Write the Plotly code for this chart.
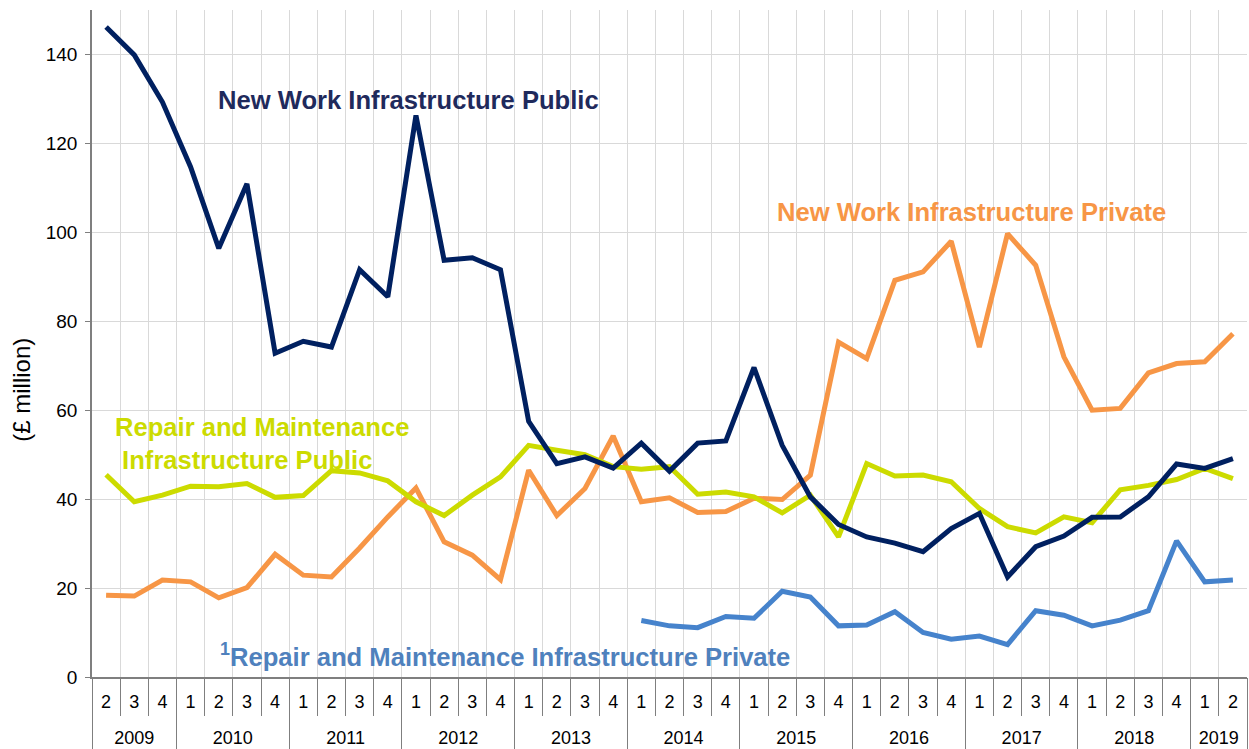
import plotly.graph_objects as go

years = ["2009"] * 3 + ["2010"] * 4 + ["2011"] * 4 + ["2012"] * 4 + ["2013"] * 4 + \
        ["2014"] * 4 + ["2015"] * 4 + ["2016"] * 4 + ["2017"] * 4 + ["2018"] * 4 + ["2019"] * 2
quarters = ["2", "3", "4"] + ["1", "2", "3", "4"] * 9 + ["1", "2"]

new_work_public = [146.2, 139.9, 129.3, 114.7, 96.4, 110.9, 72.8, 75.5, 74.2, 91.6,
                   85.5, 126.3, 93.7, 94.3, 91.6, 57.5, 48.0, 49.5, 47.0, 52.6,
                   46.3, 52.6, 53.1, 69.6, 52.1, 40.5, 34.3, 31.5, 30.1, 28.2,
                   33.4, 36.8, 22.5, 29.3, 31.7, 35.9, 36.0, 40.5, 47.9, 46.9, 49.1]
new_work_private = [18.4, 18.2, 21.8, 21.4, 17.8, 20.1, 27.6, 22.9, 22.5, 29.0,
                    36.0, 42.5, 30.4, 27.4, 21.9, 46.5, 36.3, 42.4, 54.2, 39.4,
                    40.3, 37.0, 37.2, 40.2, 39.9, 45.4, 75.3, 71.6, 89.2, 91.1,
                    98.0, 74.2, 99.7, 92.6, 72.0, 60.0, 60.4, 68.4, 70.5, 70.9, 77.2]
rm_public = [45.5, 39.4, 40.9, 42.9, 42.8, 43.5, 40.4, 40.8, 46.4, 45.9,
             44.1, 39.4, 36.3, 40.9, 45.0, 52.1, 51.0, 50.0, 47.3, 46.7,
             47.3, 41.1, 41.6, 40.5, 36.9, 40.9, 31.5, 48.0, 45.2, 45.4,
             43.9, 37.9, 33.8, 32.4, 36.0, 34.7, 42.1, 43.1, 44.4, 46.9, 44.6]
rm_private = [None] * 19 + [12.7, 11.5, 11.1, 13.6, 13.2, 19.3, 18.0, 11.5, 11.7, 14.7,
                           10.0, 8.5, 9.2, 7.3, 14.9, 13.9, 11.5, 12.8, 14.9, 30.6,
                           21.4, 21.8]

C_NAVY = "#002060"
C_ORANGE = "#F79646"
C_LIME = "#CCDB00"
C_BLUE = "#4683CC"
GRID = "#D9D9D9"
AXIS = "#7F7F7F"

FONT = "Liberation Sans, Arial, sans-serif"

n = len(quarters)
idx = list(range(n))

# year groups derived from the category lists
year_names = []
year_first = []
year_last = []
for i, y in enumerate(years):
    if not year_names or year_names[-1] != y:
        year_names.append(y)
        year_first.append(i)
        year_last.append(i)
    else:
        year_last[-1] = i
year_centers = [(a + b) / 2 for a, b in zip(year_first, year_last)]
year_bounds = [a - 0.5 for a in year_first] + [year_last[-1] + 0.5]

fig = go.Figure()
for vals, col in [(rm_private, C_BLUE), (new_work_private, C_ORANGE),
                  (rm_public, C_LIME), (new_work_public, C_NAVY)]:
    fig.add_trace(go.Scatter(x=idx, y=vals, mode="lines",
                             line=dict(color=col, width=5),
                             connectgaps=False, showlegend=False,
                             customdata=list(zip(years, quarters)),
                             hovertemplate="%{customdata[0]} Q%{customdata[1]}: %{y}<extra></extra>"))

# invisible helper traces so the year-divider and year-label axes are drawn
fig.add_trace(go.Scatter(x=year_bounds, y=[0] * len(year_bounds), xaxis="x2", mode="markers",
                         marker=dict(opacity=0), hoverinfo="skip", showlegend=False))
fig.add_trace(go.Scatter(x=year_centers, y=[0] * len(year_centers), xaxis="x3", mode="markers",
                         marker=dict(opacity=0), hoverinfo="skip", showlegend=False))

ann_font = dict(family=FONT, size=25.6)
fig.add_annotation(text="<b>New Work Infrastructure Public</b>", xref="paper", yref="y",
                   x=0.107, y=129.7, xanchor="left", yanchor="middle", showarrow=False,
                   font=dict(ann_font, color="#1F2A5C"))
fig.add_annotation(text="<b>New Work Infrastructure Private</b>", xref="paper", yref="y",
                   x=0.591, y=104.5, xanchor="left", yanchor="middle", showarrow=False,
                   font=dict(ann_font, color=C_ORANGE))
fig.add_annotation(text="<b>Repair and Maintenance<br> Infrastructure Public</b>", xref="paper",
                   yref="y", x=0.018, y=52.6, xanchor="left", yanchor="middle", showarrow=False,
                   align="left", font=dict(ann_font, color=C_LIME))
fig.add_annotation(text="<b><sup>1</sup>Repair and Maintenance Infrastructure Private</b>",
                   xref="paper", yref="y", x=0.109, y=4.9, xanchor="left", yanchor="middle",
                   showarrow=False, font=dict(ann_font, color="#4F81BD"))
# y-axis title (placed as in the reference, slightly below the axis centre)
fig.add_annotation(text="(£ million)", xref="paper", yref="y", x=-0.061, y=64.5,
                   xanchor="center", yanchor="middle", textangle=-90, showarrow=False,
                   font=dict(family=FONT, size=24, color="#000000"))

xrange = [-0.5, n - 0.5]

fig.update_layout(
    width=1249, height=749,
    margin=dict(l=92, r=2, t=10, b=72),
    paper_bgcolor="white", plot_bgcolor="white",
    font=dict(family=FONT, size=18, color="#000000"),
    hovermode="closest",
    xaxis=dict(
        range=xrange, automargin=False,
        tickmode="array", tickvals=idx, ticktext=quarters, ticks="",
        showgrid=False, zeroline=False,
        showline=True, linecolor=AXIS, linewidth=1.5,
        tickfont=dict(size=18, family=FONT), ticklabelstandoff=8,
        minor=dict(tick0=0.5, dtick=1, showgrid=True, gridcolor=GRID, gridwidth=1,
                   ticks="outside", ticklen=37, tickcolor=AXIS, tickwidth=1),
    ),
    xaxis2=dict(
        range=xrange, overlaying="x", anchor="y", side="bottom", automargin=False,
        tickmode="array", tickvals=year_bounds, ticktext=[""] * len(year_bounds),
        ticks="outside", ticklen=75, tickcolor=AXIS, tickwidth=1,
        showgrid=False, zeroline=False, showline=False,
    ),
    xaxis3=dict(
        range=xrange, overlaying="x", anchor="y", side="bottom", automargin=False,
        tickmode="array", tickvals=year_centers, ticktext=year_names, ticks="",
        showgrid=False, zeroline=False, showline=False,
        tickfont=dict(size=18, family=FONT), ticklabelstandoff=48,
    ),
    yaxis=dict(
        range=[0, 150], dtick=20, tick0=0, automargin=False,
        showgrid=True, gridcolor=GRID, gridwidth=1,
        showline=True, linecolor=AXIS, linewidth=1.5,
        ticks="outside", ticklen=5, tickcolor=AXIS,
        zeroline=False, ticklabelstandoff=4,
        tickfont=dict(size=19, family=FONT),
    ),
)

fig.write_html("out.html", config={"displayModeBar": False},
               post_script="document.body.style.margin='0';document.body.style.overflow='hidden';")
